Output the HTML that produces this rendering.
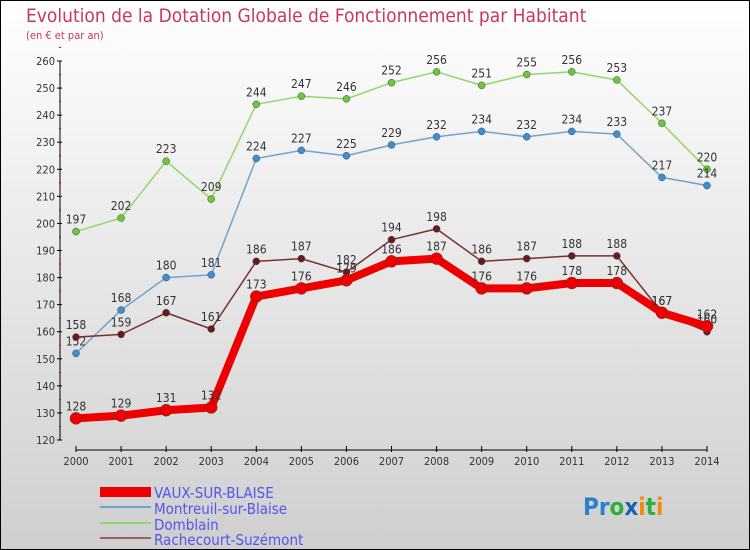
<!DOCTYPE html>
<html><head><meta charset="utf-8"><style>
body{margin:0;width:750px;height:550px;overflow:hidden}
svg{display:block;font-family:"DejaVu Sans Condensed","Liberation Sans",sans-serif}
</style></head><body>
<svg id="c" width="750" height="550" viewBox="0 0 750 550">
<defs><linearGradient id="bg" x1="0" y1="0" x2="0" y2="1"><stop offset="0" stop-color="#ffffff"/><stop offset="1" stop-color="#cfcfcf"/></linearGradient></defs>
<rect x="0.5" y="0.5" width="749" height="549" fill="url(#bg)" stroke="#000"/>
<text x="26" y="22" font-size="19" fill="#c8385e">Evolution de la Dotation Globale de Fonctionnement par Habitant</text>
<text x="26" y="39" font-size="11" fill="#c8385e">(en € et par an)</text>
<g id="axes"></g><g id="series"></g>
<g>
<rect x="100" y="487" width="51" height="10" fill="#ee0000"/>
<text x="154" y="498" font-size="15" fill="#5555ee">VAUX-SUR-BLAISE</text>
<line x1="100" y1="507" x2="151" y2="507" stroke="#6fa4d0" stroke-width="2"/>
<text x="154" y="514" font-size="15" fill="#5555ee">Montreuil-sur-Blaise</text>
<line x1="100" y1="523" x2="151" y2="523" stroke="#8fd86a" stroke-width="2"/>
<text x="154" y="530" font-size="15" fill="#5555ee">Domblain</text>
<line x1="100" y1="538" x2="151" y2="538" stroke="#9a6060" stroke-width="2"/>
<text x="154" y="545" font-size="15" fill="#5555ee">Rachecourt-Suzémont</text>
</g>
<g font-size="24" font-weight="bold">
<text x="583" y="515"><tspan fill="#2a7fd0">Pr</tspan><tspan fill="#2fae3a">o</tspan><tspan fill="#1f5fb0">x</tspan><tspan fill="#f08a10">i</tspan><tspan fill="#2fae3a">t</tspan><tspan fill="#f08a10">i</tspan></text>
</g>
</svg>
<script>
const years=[2000,2001,2002,2003,2004,2005,2006,2007,2008,2009,2010,2011,2012,2013,2014];
const yTicks=[120,130,140,150,160,170,180,190,200,210,220,230,240,250,260];
const vaux=[128,129,131,132,173,176,179,186,187,176,176,178,178,167,162];
const montreuil=[152,168,180,181,224,227,225,229,232,234,232,234,233,217,214];
const domblain=[197,202,223,209,244,247,246,252,256,251,255,256,253,237,220];
const rachecourt=[158,159,167,161,186,187,182,194,198,186,187,188,188,167,160];
const NS='http://www.w3.org/2000/svg';
const X=i=>76+i*(707-76)/(years.length-1);
const Y=v=>440-(v-120)*(440-61)/140;
function mk(t,a,p){const e=document.createElementNS(NS,t);for(const k in a)e.setAttribute(k,a[k]);p.appendChild(e);return e;}
const ax=document.getElementById('axes');
const yl=mk('line',{x1:60,y1:61,x2:60,y2:440,stroke:'#000'},ax);


yTicks.forEach(v=>{mk('line',{x1:57,y1:Y(v),x2:62,y2:Y(v),stroke:'#000'},ax);
mk('line',{x1:59,y1:Y(v+5),x2:61,y2:Y(v+5),stroke:'#d00'},ax);
const t=mk('text',{x:55,y:Y(v)+4,'text-anchor':'end','font-size':11,fill:'#333'},ax);t.textContent=v;

});
const xl=mk('line',{x1:76,y1:450,x2:707,y2:450,stroke:'#000'},ax);


years.forEach((y,i)=>{mk('line',{x1:X(i),y1:446,x2:X(i),y2:452,stroke:'#000'},ax);
const t=mk('text',{x:X(i),y:465,'text-anchor':'middle','font-size':11,fill:'#333'},ax);t.textContent=y;

});
const sg=document.getElementById('series');
function draw(d,name,col,w,r,dot){
const g=mk('g',{},sg);


mk('polyline',{points:d.map((v,i)=>X(i)+','+Y(v)).join(' '),fill:'none',stroke:col,'stroke-width':w,'stroke-linejoin':'round'},g);
d.forEach((v,i)=>{const c=mk('circle',{cx:X(i),cy:Y(v),r:r,fill:dot,stroke:'#444','stroke-width':0.5},g);


const t=mk('text',{x:X(i),y:Y(v)-8,'text-anchor':'middle','font-size':12,fill:'#333'},g);t.textContent=v;

});}
draw(domblain,'series-domblain','#8fd86a',1.5,3.5,'#6cc83a');
draw(montreuil,'series-montreuil','#6fa4d0',1.5,3.5,'#3f8fd0');
draw(rachecourt,'series-rachecourt','#7a3030',1.5,3.5,'#6a1a1a');
draw(vaux,'series-vaux','#ee0000',8,6,'#ee0000');
</script>
</body></html>
